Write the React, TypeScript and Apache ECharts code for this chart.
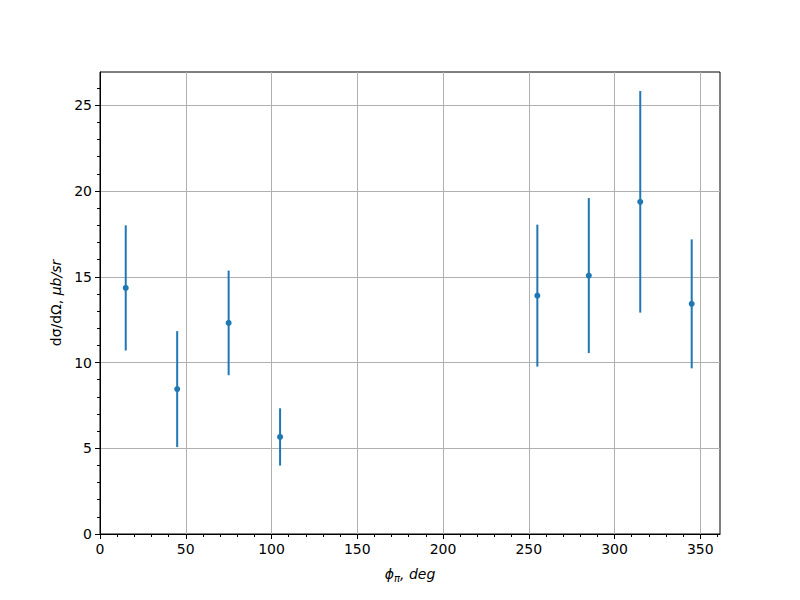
import React, { useEffect, useRef } from "react";
import * as echarts from "echarts";

const phiValues = [15, 45, 75, 105, 255, 285, 315, 345];
const sigmaValues = [14.35, 8.45, 12.31, 5.66, 13.9, 15.07, 19.37, 13.42];
const sigmaErrors = [3.65, 3.38, 3.05, 1.67, 4.14, 4.52, 6.46, 3.76];

const xMajorTicks = [0, 50, 100, 150, 200, 250, 300, 350];
const xMinorTicks = [10, 20, 30, 40, 60, 70, 80, 90, 110, 120, 130, 140, 160, 170, 180, 190, 210, 220, 230, 240, 260, 270, 280, 290, 310, 320, 330, 340, 360];
const yMajorTicks = [0, 5, 10, 15, 20, 25];
const yMinorTicks = [1, 2, 3, 4, 6, 7, 8, 9, 11, 12, 13, 14, 16, 17, 18, 19, 21, 22, 23, 24, 26];

const FONT = "DejaVu Sans";
const BLUE = "#1f77b4";

export default function App() {
  const ref = useRef<HTMLDivElement>(null);
  useEffect(() => {
    if (!ref.current) return;
    const chart = echarts.init(ref.current, null, { renderer: "svg" });
    const xMin = 0, xMax = 361.5, yMin = 0, yMax = 26.94;
    const points = phiValues.map((x, i) => [x, sigmaValues[i]]);
    const bars = phiValues.map((x, i) => [x, sigmaValues[i] - sigmaErrors[i], sigmaValues[i] + sigmaErrors[i]]);
    const hidden = {
      axisLine: { show: false },
      axisLabel: { show: false },
      splitLine: { show: false },
    };
    chart.setOption({
      animation: false,
      backgroundColor: "#ffffff",
      textStyle: { fontFamily: FONT },
      grid: {
        left: 100, top: 72, width: 620, height: 462,
        show: true, borderColor: "#000000", borderWidth: 1, backgroundColor: "transparent",
      },
      xAxis: [
        {
          type: "value", min: xMin, max: xMax, gridIndex: 0,
          name: "{i|ϕ}{s|π}{i|, deg}",
          nameLocation: "middle", nameGap: 31,
          nameTextStyle: {
            rich: {
              i: { fontFamily: FONT, fontSize: 14, fontStyle: "italic", color: "#000" },
              s: { fontFamily: FONT, fontSize: 10, fontStyle: "italic", color: "#000", padding: [8, 0, 0, 0] },
            },
          },
          axisLine: { show: true, lineStyle: { color: "#000", width: 1 } },
          axisTick: { show: true, length: 5, lineStyle: { color: "#000", width: 1 }, customValues: xMajorTicks },
          axisLabel: { show: true, customValues: xMajorTicks, color: "#000", fontSize: 14, fontFamily: FONT, margin: 8 },
          splitLine: { show: true, lineStyle: { color: "#b0b0b0", width: 1 } },
        },
        {
          type: "value", min: xMin, max: xMax, gridIndex: 0, position: "bottom",
          ...hidden,
          axisTick: { show: true, length: 3, lineStyle: { color: "#000", width: 1 }, customValues: xMinorTicks },
        },
      ],
      yAxis: [
        {
          type: "value", min: yMin, max: yMax, gridIndex: 0,
          name: "{n|dσ/dΩ, }{i|μb/sr}",
          nameLocation: "middle", nameGap: 37,
          nameTextStyle: {
            rich: {
              n: { fontFamily: FONT, fontSize: 14, color: "#000" },
              i: { fontFamily: FONT, fontSize: 14, fontStyle: "italic", color: "#000" },
            },
          },
          axisLine: { show: true, lineStyle: { color: "#000", width: 1 } },
          axisTick: { show: true, length: 5, lineStyle: { color: "#000", width: 1 }, customValues: yMajorTicks },
          axisLabel: { show: true, customValues: yMajorTicks, color: "#000", fontSize: 14, fontFamily: FONT, margin: 8 },
          splitLine: { show: true, lineStyle: { color: "#b0b0b0", width: 1 } },
        },
        {
          type: "value", min: yMin, max: yMax, gridIndex: 0, position: "left",
          ...hidden,
          axisTick: { show: true, length: 3, lineStyle: { color: "#000", width: 1 }, customValues: yMinorTicks },
        },
      ],
      series: [
        {
          type: "custom",
          xAxisIndex: 0, yAxisIndex: 0,
          data: bars,
          encode: { x: 0, y: [1, 2] },
          renderItem: (params: any, api: any) => {
            const lo = api.coord([api.value(0), api.value(1)]);
            const hi = api.coord([api.value(0), api.value(2)]);
            return {
              type: "line",
              shape: { x1: lo[0], y1: lo[1], x2: hi[0], y2: hi[1] },
              style: { stroke: BLUE, lineWidth: 2 },
            };
          },
          z: 2,
        },
        {
          type: "scatter",
          xAxisIndex: 0, yAxisIndex: 0,
          data: points,
          symbol: "circle",
          symbolSize: 6,
          itemStyle: { color: BLUE, opacity: 1 },
          z: 3,
        },
      ],
    });
    return () => chart.dispose();
  }, []);
  return (
    <div
      ref={ref}
      style={{ position: "fixed", left: 0, top: 0, width: 800, height: 600, background: "#fff" }}
    />
  );
}
